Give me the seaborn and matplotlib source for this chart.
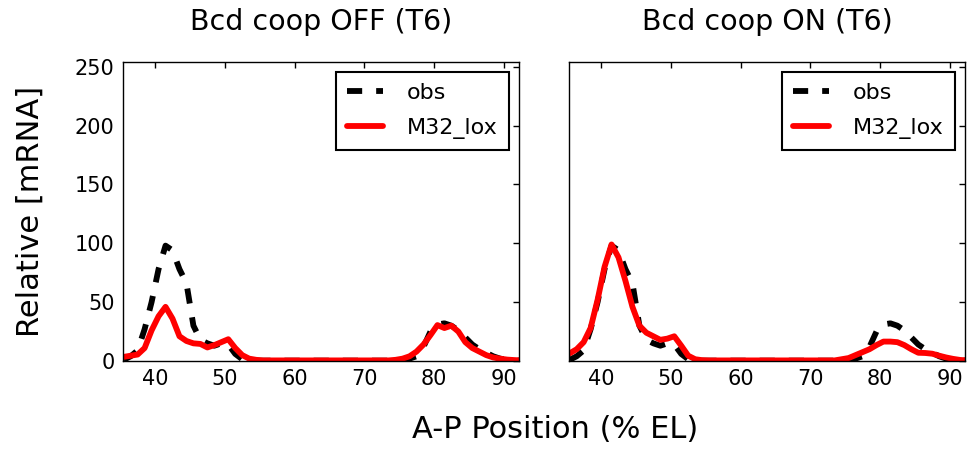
import matplotlib
matplotlib.use("Agg")
import matplotlib.pyplot as plt
import seaborn as sns
import pandas as pd

# A-P positions (% EL)
position = [35.5, 36.5, 37.5, 38.5, 39.5, 40.5, 41.5, 42.5, 43.5, 44.5,
            45.5, 46.5, 47.5, 48.5, 49.5, 50.5, 51.5, 52.5, 53.5, 54.5,
            55.5, 56.5, 57.5, 58.5, 59.5, 60.5, 61.5, 62.5, 63.5, 64.5,
            65.5, 66.5, 67.5, 68.5, 69.5, 70.5, 71.5, 72.5, 73.5, 74.5,
            75.5, 76.5, 77.5, 78.5, 79.5, 80.5, 81.5, 82.5, 83.5, 84.5,
            85.5, 86.5, 87.5, 88.5, 89.5, 90.5, 91.5, 92.5]

# observed relative mRNA
obs = [1, 4, 9, 27, 50, 78, 98, 94, 78, 66,
       30, 18, 15, 13, 15, 14, 6, 1.5, 0.5, 0.3,
       0.3, 0.3, 0.3, 0.3, 0.3, 0.3, 0.3, 0.3, 0.3, 0.3,
       0.3, 0.3, 0.3, 0.3, 0.3, 0.3, 0.3, 0.3, 0.3, 0.5,
       1, 2, 4, 12, 25, 31, 32, 30, 26, 20,
       14, 10, 7, 4, 2, 1, 0.5, 0.3]

# model M32_lox, Bcd cooperativity OFF
model_off = [3.5, 4.5, 5.5, 11, 26, 38, 46, 36, 21, 17,
             15, 14.5, 11.5, 13.5, 16, 18.5, 11, 5, 2, 1,
             0.5, 0.5, 0.5, 0.5, 0.5, 0.5, 0.5, 0.5, 0.5, 0.5,
             0.5, 0.5, 0.5, 0.5, 0.5, 0.5, 0.5, 0.5, 0.5, 1,
             2, 4, 8, 14, 22, 30.5, 28, 30, 25, 16,
             11, 8, 5, 3, 2, 1.2, 0.8, 0.5]

# model M32_lox, Bcd cooperativity ON
model_on = [6.5, 10, 16, 28, 52, 80, 99, 88, 68, 46,
            30, 24, 21, 18, 19, 21, 13, 4.5, 1.5, 0.7,
            0.5, 0.5, 0.5, 0.5, 0.5, 0.5, 0.5, 0.5, 0.5, 0.5,
            0.5, 0.5, 0.5, 0.5, 0.5, 0.5, 0.5, 0.5, 0.5, 1.5,
            2.5, 5, 7.5, 10, 13.5, 16.5, 16.5, 16, 13.5, 10,
            7, 6.8, 6.2, 4.5, 3, 1.8, 0.9, 0.5]

titles = ["Bcd coop OFF (T6)", "Bcd coop ON (T6)"]
yticks = [0, 50, 100, 150, 200, 250]
xticks = [40, 50, 60, 70, 80, 90]

sns.set_style("white")
plt.rcParams.update({
    "font.family": ["DejaVu Sans"],
    "text.color": "black",
    "axes.labelcolor": "black",
    "xtick.color": "black",
    "ytick.color": "black",
    "xtick.direction": "in",
    "ytick.direction": "in",
    "xtick.top": True,
    "ytick.right": True,
    "xtick.major.size": 4.5,
    "ytick.major.size": 4.5,
    "xtick.major.width": 1.0,
    "ytick.major.width": 1.0,
    "axes.edgecolor": "black",
    "axes.linewidth": 1.0,
})

fig = plt.figure(figsize=(9.68, 4.49), dpi=100)
ax1 = fig.add_axes([123 / 968, 1 - 361 / 449, 396 / 968, 299 / 449])
ax2 = fig.add_axes([569 / 968, 1 - 361 / 449, 396 / 968, 299 / 449])

for ax, model, title in [(ax1, model_off, titles[0]), (ax2, model_on, titles[1])]:
    df = pd.DataFrame({"x": position, "obs": obs, "model": model})
    sns.lineplot(data=df, x="x", y="obs", ax=ax, color="black", linewidth=4.2,
                 linestyle=(0, (2.6, 2.4)), label="obs")
    sns.lineplot(data=df, x="x", y="model", ax=ax, color="red", linewidth=4.2,
                 label="M32_lox")
    ax.set_xlim(35.4, 92.2)
    ax.set_ylim(0, 254)
    ax.set_xticks(xticks)
    ax.set_yticks(yticks)
    ax.tick_params(labelsize=15, colors="black", pad=6)
    ax.set_xlabel("")
    ax.set_ylabel("")
    ax.set_title(title, fontsize=20.5, pad=23, color="black")
    for s in ax.spines.values():
        s.set_visible(True)
        s.set_color("black")
    leg = ax.legend(loc="upper right", fontsize=16, frameon=True, fancybox=False,
                    edgecolor="black", framealpha=1, handlelength=1.6,
                    handletextpad=1.1, borderpad=0.5, labelspacing=0.65,
                    borderaxespad=0.45)
    leg.get_frame().set_linewidth(1.5)

ax2.tick_params(labelleft=False)
ax1.set_ylabel("Relative [mRNA]", fontsize=22, labelpad=22)
fig.text(555 / 968, 1 - 430 / 449, "A-P Position (% EL)", fontsize=22,
         ha="center", va="center")

fig.savefig("out.png", dpi=100)
